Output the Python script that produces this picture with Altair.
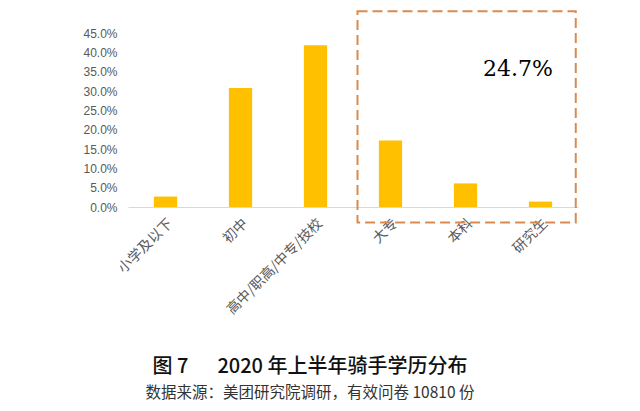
import altair as alt
import pandas as pd

categories = ["小学及以下", "初中", "高中/职高/中专/技校", "大专", "本科", "研究生"]
shares = [0.027, 0.308, 0.418, 0.172, 0.061, 0.014]
y_ticks = [0, 0.05, 0.10, 0.15, 0.20, 0.25, 0.30, 0.35, 0.40, 0.45]

box_x = [3.06]
box_x2 = [5.97]
box_y = [0.506]
box_y2 = [-0.04]
note_x = [5.2]
note_y = [0.358]
note_text = ["24.7%"]

title_text = "图 7\u3000\u00a0\u00a02020 年上半年骑手学历分布"
subtitle_text = "数据来源：美团研究院调研，有效问卷 10810 份"

bars_df = pd.DataFrame({"cat": categories, "v": shares})
box_df = pd.DataFrame({"x": box_x, "x2": box_x2, "y": box_y, "y2": box_y2})
note_df = pd.DataFrame({"x": note_x, "y": note_y, "t": note_text})

yscale = alt.Scale(domain=[0, 0.45], nice=False)
y_axis = alt.Axis(values=y_ticks, format=".1%", grid=False, domain=False,
                  ticks=False, labelPadding=11, labelFontSize=12,
                  labelOverlap=False, labelFlush=False, labelBound=False,
                  labelColor="#595959", labelFont="Liberation Sans")

bars = alt.Chart(bars_df).mark_bar(color="#FFC000").encode(
    x=alt.X("cat:N", sort=categories, title=None,
            scale=alt.Scale(paddingInner=0.69, paddingOuter=0.345),
            axis=alt.Axis(labelAngle=-45, labelFontSize=14, labelColor="#595959",
                          labelFont="Noto Sans CJK SC", ticks=False, labelPadding=9,
                          domainColor="#D9D9D9", domainWidth=1.2)),
    y=alt.Y("v:Q", scale=yscale, title=None, axis=y_axis),
)

box = alt.Chart(box_df).mark_rect(
    fill=None, stroke="#DA8A4E", strokeWidth=2, strokeDash=[10, 5]
).encode(
    x=alt.X("x:Q", scale=alt.Scale(domain=[0, 6], nice=False), axis=None),
    x2="x2:Q",
    y=alt.Y("y:Q", scale=yscale, title=None, axis=y_axis),
    y2="y2:Q",
)

note = alt.Chart(note_df).mark_text(
    font="DejaVu Serif", fontSize=22, color="#000000"
).encode(
    x=alt.X("x:Q", scale=alt.Scale(domain=[0, 6], nice=False), axis=None),
    y=alt.Y("y:Q", scale=yscale, title=None, axis=y_axis),
    text="t:N",
)

chart = alt.layer(bars, box, note).resolve_scale(x="independent").properties(
    width=450,
    height=174,
    padding={"left": 120, "top": 25, "right": 50, "bottom": 195},
    autosize=alt.AutoSizeParams(type="none"),
    title=alt.TitleParams(
        text=title_text,
        subtitle=subtitle_text,
        orient="bottom",
        anchor="middle",
        dx=-43,
        offset=40,
        font="Noto Sans CJK SC Medium, Noto Sans CJK SC",
        fontSize=20,
        fontWeight="normal",
        color="#111111",
        subtitleFont="Noto Sans CJK SC",
        subtitleFontSize=15.5,
        subtitleColor="#333333",
        subtitlePadding=9,
    ),
).configure_view(stroke=None)

chart.save("out.html", embed_options={"renderer": "svg", "actions": False})
